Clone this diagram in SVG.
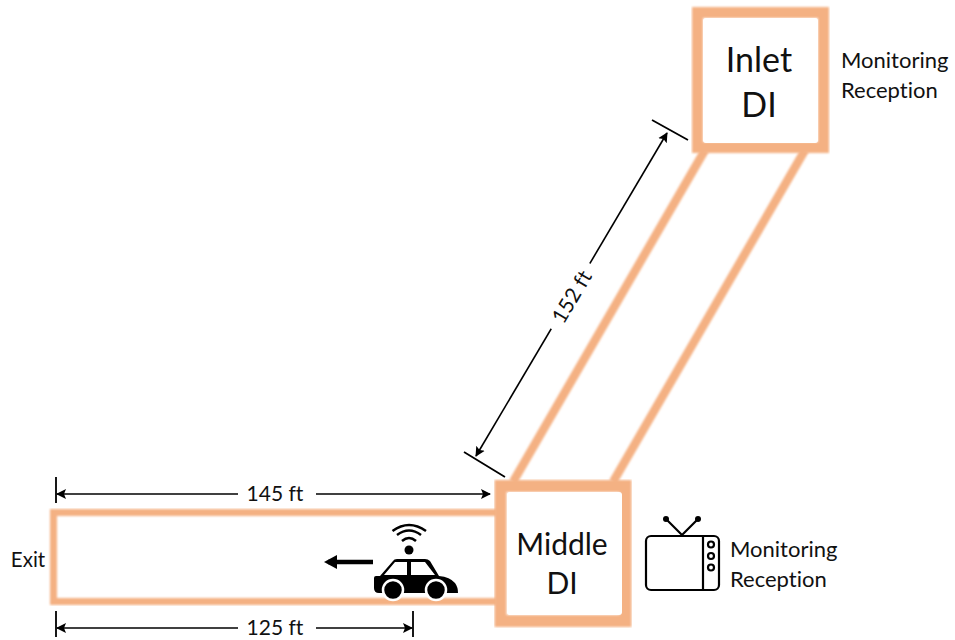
<svg xmlns="http://www.w3.org/2000/svg" width="955" height="640" viewBox="0 0 955 640">
<style>
text{font-family:Lato,"Liberation Sans",sans-serif;fill:#111;text-anchor:middle;font-variant-ligatures:none}
.wall{fill:none;stroke:#f4b183;filter:url(#soft)}
.dim{stroke:#000;stroke-width:1.6;fill:none}
.tick{stroke:#000;stroke-width:1.8;fill:none}
.tv{fill:none;stroke:#000;stroke-width:2.2}
.big{font-size:34px}.mid{font-size:30px}.lab{font-size:22px;text-anchor:start}.exit{font-size:20.5px}.small{font-size:21px}
</style>
<defs>
<filter id="soft" x="-5%" y="-5%" width="110%" height="110%"><feGaussianBlur stdDeviation="0.8"/></filter>
<marker id="ah" markerUnits="userSpaceOnUse" markerWidth="10" markerHeight="12" refX="9" refY="5" orient="auto-start-reverse" viewBox="0 0 10 10"><path d="M0 0L10 5L0 10L2 5Z" fill="#000"/></marker>
</defs>
<rect width="955" height="640" fill="#fff"/>
<g id="connectors">
<path class="wall" stroke-width="8.500" d="M705 150L513 482M805 150L613 482"/>
<path class="wall" stroke-width="7" d="M497 512.500H53.500V601.500H497"/>
<path class="tick" d="M652 120L688 140M464 452L505 477M56 477V503M56 611V637M413 611V637"/>
<path class="dim" marker-start="url(#ah)" marker-end="url(#ah)" d="M667 133L476 456"/>
<path class="dim" marker-start="url(#ah)" marker-end="url(#ah)" d="M57 494H490"/>
<path class="dim" marker-start="url(#ah)" marker-end="url(#ah)" d="M57 628H412"/>
<rect x="238" y="484" width="78" height="20" fill="#fff"/>
<rect x="238" y="618" width="78" height="20" fill="#fff"/>
<g transform="translate(572 297) rotate(-59.400)"><rect x="-38" y="-11" width="76" height="22" fill="#fff"/></g>
</g>
<text class="small" x="275" y="501">145 ft</text>
<text class="small" x="275" y="635">125 ft</text>
<text class="small" transform="translate(572 297) rotate(-59.400)" y="7">152 ft</text>
<g id="inlet">
<rect class="wall" x="697.500" y="12.500" width="126" height="135" stroke-width="11"/>
<rect x="703" y="18" width="115" height="125" rx="3" fill="#fff"/>
<text class="big" x="759" y="72">Inlet</text>
<text class="big" x="759" y="117">DI</text>
</g>
<g id="middle">
<rect class="wall" x="500.500" y="486" width="125" height="135" stroke-width="12"/>
<rect x="507" y="492" width="115" height="123" rx="3" fill="#fff"/>
<text class="mid" x="562" y="555">Middle</text>
<text class="mid" x="562" y="594">DI</text>
</g>
<g id="exit"><text class="exit" x="28" y="567">Exit</text></g>
<g id="inlet-label">
<text class="lab" x="841" y="68">Monitoring</text>
<text class="lab" x="841" y="98">Reception</text>
</g>
<g id="middle-label">
<text class="lab" x="730" y="557">Monitoring</text>
<text class="lab" x="730" y="587">Reception</text>
</g>
<g id="tv">
<rect class="tv" x="646" y="536" width="73" height="54" rx="5"/>
<path class="tv" d="M703 536V590"/>
<circle class="tv" cx="711" cy="544.500" r="3"/><circle class="tv" cx="711" cy="556" r="3"/><circle class="tv" cx="711" cy="567.500" r="3"/>
<path class="tv" d="M666 519L682 535L698 519"/>
<circle cx="666" cy="519" r="3" fill="#000"/><circle cx="698" cy="519" r="3" fill="#000"/>
</g>
<g id="car">
<path d="M373 562H328" stroke="#000" stroke-width="4.500" fill="none"/>
<path d="M337 555L324 562L337 569Z" fill="#000"/>
<path d="M376 576H380L393 561Q394 559 397 559H425Q428 559 430 561L439 576Q450 577 455 583Q458 587 458 593H379Q374 593 374 588V578Q374 576 376 576Z" fill="#000"/>
<path d="M384 575L395 562H407V575ZM411 562H425L435 575H411Z" fill="#fff"/>
<circle cx="393" cy="590" r="10" fill="#000" stroke="#fff" stroke-width="2.500"/>
<circle cx="436" cy="590" r="10" fill="#000" stroke="#fff" stroke-width="2.500"/>
<circle cx="409" cy="550" r="4.500" fill="#000"/>
<path d="M402 541Q409 535 416 541M397 535Q409 526 421 535M392.500 531Q409 519 426 531" fill="none" stroke="#000" stroke-width="2.500"/>
</g>
</svg>
